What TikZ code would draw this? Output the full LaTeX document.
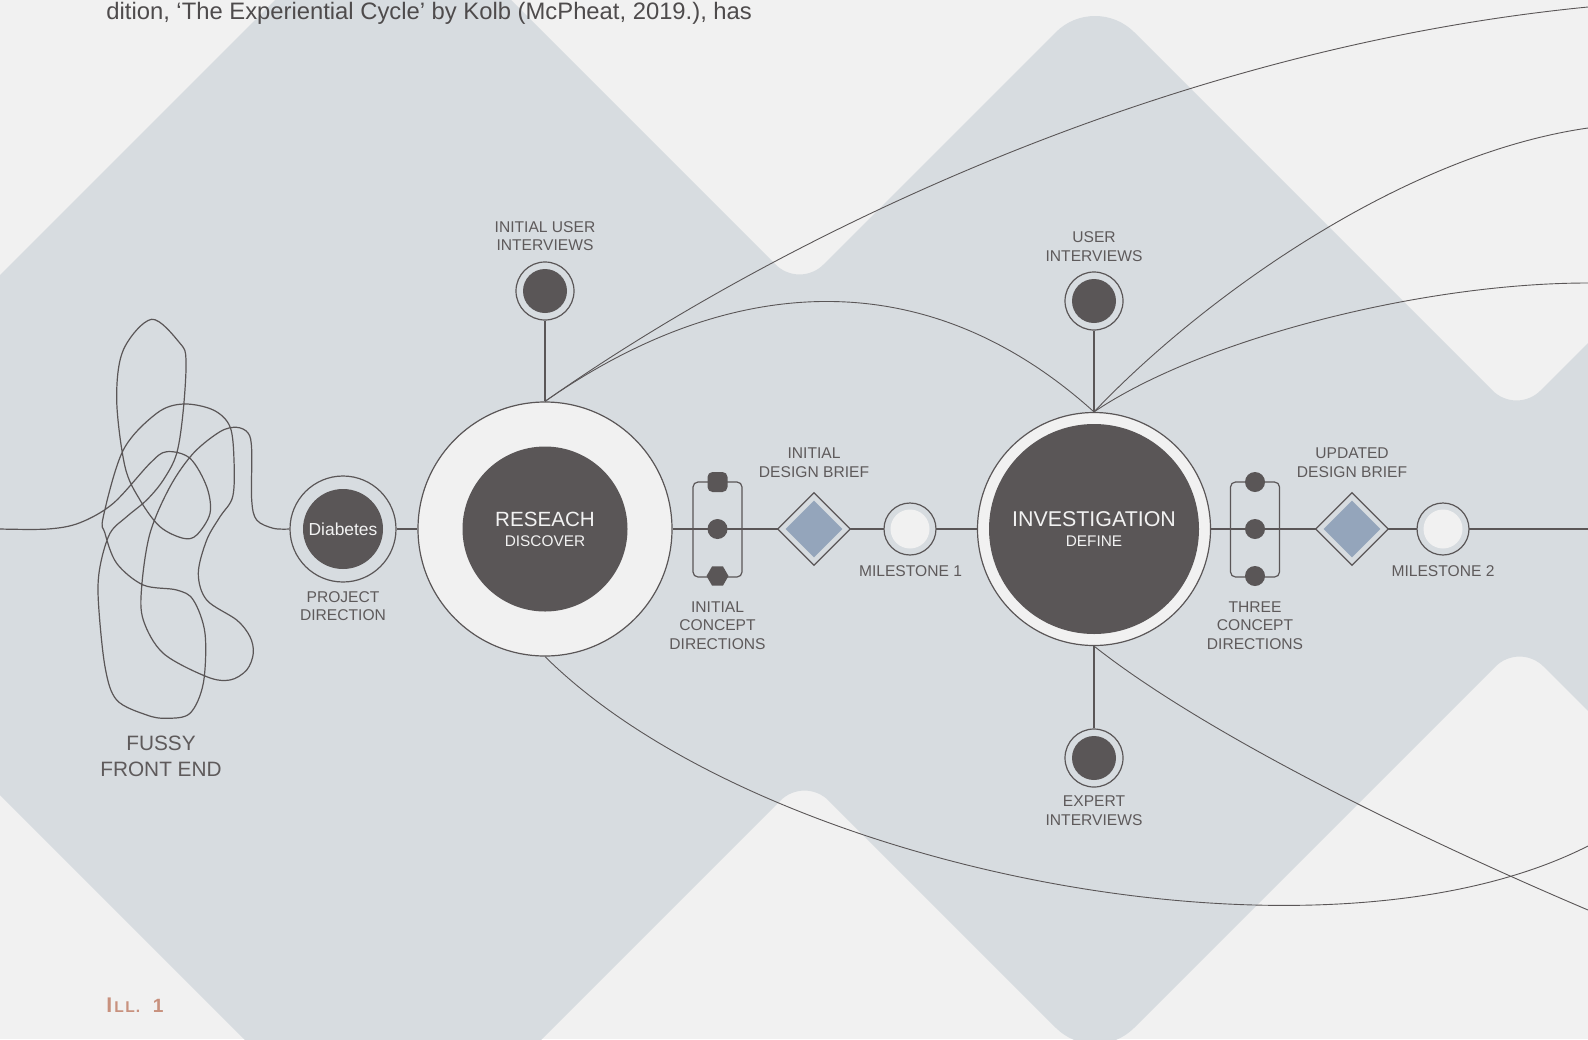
\documentclass[tikz,border=0pt]{standalone}
\usepackage{fontspec}
\setmainfont{Liberation Sans}
\usetikzlibrary{shapes.geometric}
\pgfdeclarelayer{back}
\pgfdeclarelayer{lines}
\pgfsetlayers{back,lines,main}
\definecolor{bgl}{HTML}{F1F1F1}
\definecolor{bgg}{HTML}{D7DCE0}
\definecolor{ink}{HTML}{5A5657}
\definecolor{lab}{HTML}{5E5A5B}
\definecolor{steel}{HTML}{94A5BB}
\definecolor{illc}{HTML}{C8917E}
\definecolor{wht}{HTML}{F2F2F2}
\definecolor{toptx}{HTML}{4E4B4C}
\begin{document}
\begin{tikzpicture}[x=0.5pt,y=-0.5pt,
  ln/.style={draw=ink, line width=0.6pt},
  cv/.style={draw=ink, line width=0.45pt},
  ring/.style={circle, draw=ink, line width=0.6pt, fill=bgg, inner sep=0pt},
  bigring/.style={circle, draw=ink, line width=0.6pt, fill=bgl, inner sep=0pt},
  core/.style={circle, fill=ink, inner sep=0pt},
  lite/.style={circle, fill=bgl, inner sep=0pt},
  lbl/.style={text=lab, font=\fontsize{7.8pt}{9.35pt}\selectfont, align=center, inner sep=0pt},
  wtxt/.style={text=wht, inner sep=0pt},
  cbox/.style={rectangle, draw=ink, line width=0.6pt, rounded corners=2.5pt, minimum width=24.5pt, minimum height=47.5pt, inner sep=0pt},
  dmd/.style={diamond, draw=ink, line width=0.6pt, fill=bgg, minimum width=36.5pt, minimum height=36.5pt, inner sep=0pt},
  dmdin/.style={diamond, fill=steel, minimum width=28.5pt, minimum height=28.5pt, inner sep=0pt},
  sqdot/.style={rectangle, fill=ink, rounded corners=2.5pt, minimum size=10pt, inner sep=0pt},
  hexdot/.style={regular polygon, regular polygon sides=6, fill=ink, minimum size=11pt, inner sep=0pt},
  smalldot/.style={circle, fill=ink, minimum size=10pt, inner sep=0pt}
]
\useasboundingbox (0,0) rectangle (1588,1039);

% ---------- background ----------
\begin{pgfonlayer}{back}
\begin{scope}
\clip (0,0) rectangle (1588,1039);
\fill[bgl] (0,0) rectangle (1588,1039);
\fill[bgg] (-260,535) -- (393,-118)
  -- (775.5,264.5) .. controls (788.75,277.75) and (810.25,277.75) .. (823.5,264.5)
  -- (1055.8,32.2) .. controls (1077.4,10.6) and (1112.6,10.6) .. (1134.2,32.2)
  -- (1492.5,390.5) .. controls (1505.75,403.75) and (1527.25,403.75) .. (1540.5,390.5)
  -- (2104,-173) -- (2804,527) -- (2104,1227)
  -- (1543.5,666.5) .. controls (1530.25,653.25) and (1508.75,653.25) .. (1495.5,666.5)
  -- (1134.2,1027.8) .. controls (1112.6,1049.4) and (1077.4,1049.4) .. (1055.8,1027.8)
  -- (828.5,800.5) .. controls (815.25,787.25) and (793.75,787.25) .. (780.5,800.5)
  -- (393,1188) -- cycle;
\node[anchor=base west, inner sep=0pt, text=toptx, font=\fontsize{11.9pt}{13pt}\selectfont] (toptext) at (106,19) {dition, ‘The Experiential Cycle’ by Kolb (McPheat, 2019.), has};
\end{scope}
\end{pgfonlayer}

% ---------- coordinates ----------
\coordinate (lft) at (0,529);
\coordinate (rgt) at (1588,529);
\coordinate (ea) at (1588,7);
\coordinate (ec) at (1588,128);
\coordinate (ed) at (1588,283);
\coordinate (ee) at (1588,846);
\coordinate (ef) at (1588,910);

% ---------- nodes ----------
\node[ring, minimum size=53pt] (diab) at (343,529) {};
\node[core, minimum size=40pt, text=wht, font=\fontsize{8.7pt}{10pt}\selectfont] (diabin) at (343,529) {Diabetes};
\node[lbl] (diablbl) at (343,606) {PROJECT\\DIRECTION};

\node[bigring, minimum size=127pt] (res) at (545,529) {};
\node[core, minimum size=82.5pt] (resin) at (545,529) {};
\node[wtxt, font=\fontsize{10.3pt}{12pt}\selectfont] (restitle) at (545,519.6) {RESEACH};
\node[wtxt, font=\fontsize{7.7pt}{9pt}\selectfont] (ressub) at (545,541) {DISCOVER};

\node[ring, minimum size=29pt] (iui) at (545,291) {};
\node[core, minimum size=22pt] (iuiin) at (545,291) {};
\node[lbl] (iuilbl) at (545,236) {INITIAL USER\\INTERVIEWS};

\node[cbox] (icd) at (717.5,529.5) {};
\node[sqdot] (icd1) at (717.5,482) {};
\node[smalldot] (icd2) at (717.5,529) {};
\node[hexdot] (icd3) at (717.5,576) {};
\node[lbl] (icdlbl) at (717.5,625.5) {INITIAL\\CONCEPT\\DIRECTIONS};

\node[dmd] (idb) at (814,529) {};
\node[dmdin] (idbin) at (814,529) {};
\node[lbl] (idblbl) at (814,463) {INITIAL\\DESIGN BRIEF};

\node[ring, minimum size=26pt] (ms1) at (910,529) {};
\node[lite, minimum size=19.5pt] (ms1in) at (910,529) {};
\node[lbl] (ms1lbl) at (910.5,571) {MILESTONE 1};

\node[bigring, minimum size=116.5pt] (inv) at (1094,529) {};
\node[core, minimum size=105pt] (invin) at (1094,529) {};
\node[wtxt, font=\fontsize{10.7pt}{12pt}\selectfont] (invtitle) at (1094,519.6) {INVESTIGATION};
\node[wtxt, font=\fontsize{7.7pt}{9pt}\selectfont] (invsub) at (1094,541) {DEFINE};

\node[ring, minimum size=29pt] (ui) at (1094,301) {};
\node[core, minimum size=22pt] (uiin) at (1094,301) {};
\node[lbl] (uilbl) at (1094,246.5) {USER\\INTERVIEWS};

\node[ring, minimum size=29pt] (ei) at (1094,758) {};
\node[core, minimum size=22pt] (eiin) at (1094,758) {};
\node[lbl] (eilbl) at (1094,810.7) {EXPERT\\INTERVIEWS};

\node[cbox] (tcd) at (1255,529.5) {};
\node[smalldot] (tcd1) at (1255,482) {};
\node[smalldot] (tcd2) at (1255,529) {};
\node[smalldot] (tcd3) at (1255,576) {};
\node[lbl] (tcdlbl) at (1255,625.5) {THREE\\CONCEPT\\DIRECTIONS};

\node[dmd] (udb) at (1352,529) {};
\node[dmdin] (udbin) at (1352,529) {};
\node[lbl] (udblbl) at (1352,462.5) {UPDATED\\DESIGN BRIEF};

\node[ring, minimum size=26pt] (ms2) at (1443,529) {};
\node[lite, minimum size=19.5pt] (ms2in) at (1443,529) {};
\node[lbl] (ms2lbl) at (1443,571) {MILESTONE 2};

\node[text=lab, align=center, inner sep=0pt, font=\fontsize{10.4pt}{13pt}\selectfont] (ffe) at (161,756) {FUSSY\\FRONT END};

\node[anchor=base west, inner sep=0pt, text=illc, font=\bfseries] (ill) at (106,1012)
  {{\fontsize{10.6pt}{12pt}\selectfont I}\kern1pt{\fontsize{7.8pt}{10pt}\selectfont L\kern0.8pt L\kern0.5pt.}\kern6.3pt{\fontsize{9.6pt}{12pt}\selectfont 1}};

% ---------- connectors ----------
\begin{pgfonlayer}{lines}
\draw[ln] plot[smooth, tension=0.55] coordinates {(lft) (48,529) (80,522.7) (113.3,503.3) (150,463.3) (166.7,451.7) (190,458.3) (206.7,486.7) (210,513.3) (196.7,535) (183.3,538.3) (160,526.7) (140,500) (125,466.7) (116.7,400) (123.3,350) (151.7,319.3) (180,343.3) (186,360) (183.3,410) (176.7,453.3) (163.3,480) (146.7,500) (126.7,516.7) (110,533.3) (100,566.7) (98.3,600) (105,666.7) (116.7,700) (146.7,715) (166.7,718.3) (190,713.3) (203.3,683.3) (205,633.3) (193.3,600) (176.7,590) (143.3,585) (116.7,563.3) (105,533.3) (103.3,516.7) (123.3,450) (156.7,413.3) (183.3,404) (213.3,410) (230,426.7) (234,460) (232.7,496.7) (220,516.7) (206.7,540) (198.3,573.3) (206.7,600) (236.7,620) (250,636.7) (253.3,653.3) (246.7,670) (230,680) (206.7,676.7) (163.3,653.3) (143.3,620) (141.7,586.7) (150,533.3) (170,486.7) (193.3,453.3) (220,431.7) (236.7,427.3) (248.3,433.3) (251.7,450) (251.7,500) (256.7,520) (273.3,528.3) (diab.west)};
\draw[ln] (diab) -- (res);
\draw[ln] (res) -- (inv);
\draw[ln] (inv) -- (rgt);
\draw[ln] (iui) -- (res);
\draw[ln] (ui) -- (inv);
\draw[ln] (ei) -- (inv);
\draw[cv] (res.north) .. controls (760,250) and (1150,50) .. (ea);
\draw[cv] (res.north) .. controls (720,279) and (919,254) .. (inv.north);
\draw[cv] (inv.north) .. controls (1200,300) and (1400,155) .. (ec);
\draw[cv] (inv.north) .. controls (1200,340) and (1420,283) .. (ed);
\draw[cv] (res.south) .. controls (760,870) and (1320,982) .. (ee);
\draw[cv] (inv.south) .. controls (1200,730) and (1400,830) .. (ef);
\end{pgfonlayer}
\end{tikzpicture}
\end{document}
